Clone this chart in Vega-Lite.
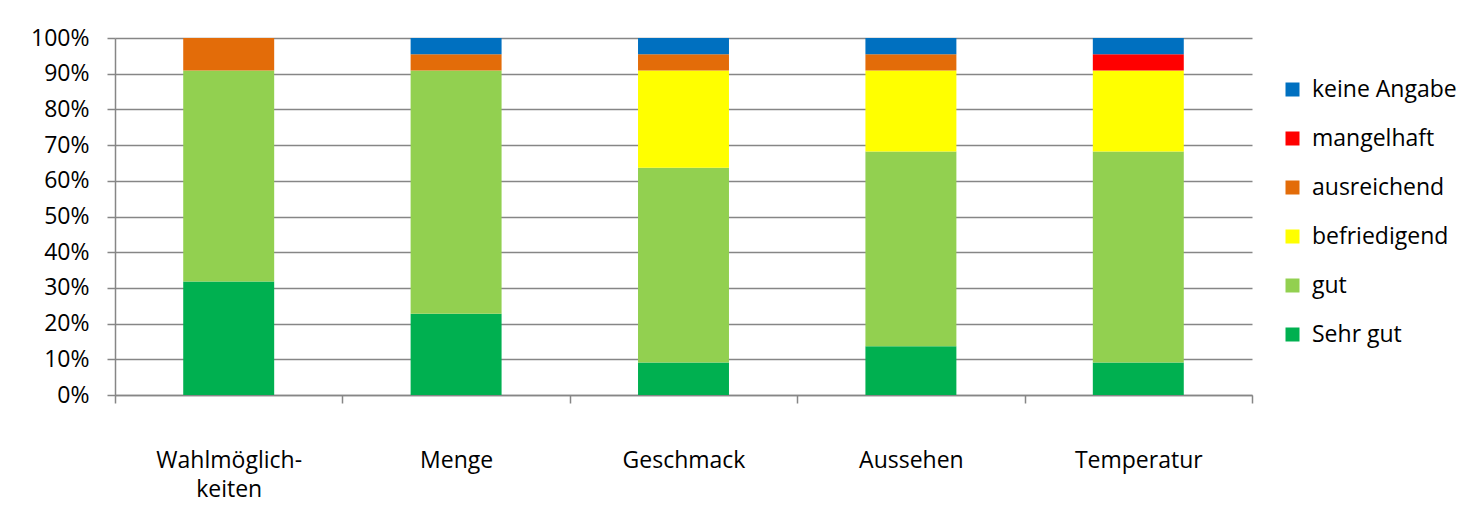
{
  "$schema": "https://vega.github.io/schema/vega-lite/v6.json",
  "autosize": {"type": "none"},
  "padding": {"left": 115, "top": 38, "right": 227, "bottom": 126},
  "width": 1137,
  "height": 357,
  "background": "white",
  "config": {
    "font": "Open Sans",
    "view": {"stroke": null},
    "axis": {"labelFont": "Open Sans", "labelFontSize": 23, "labelColor": "#000000", "domainColor": "#868686", "tickColor": "#868686", "gridColor": "#868686", "domainWidth": 1.5, "tickWidth": 1.5, "gridWidth": 1.5, "tickSize": 8, "title": null},
    "legend": {"labelFont": "Open Sans", "labelFontSize": 23, "labelColor": "#000000"}
  },
  "data": {
    "values": [
      {"kat": "Wahlmöglichkeiten", "bewertung": "Sehr gut", "n": 7},
      {"kat": "Wahlmöglichkeiten", "bewertung": "gut", "n": 13},
      {"kat": "Wahlmöglichkeiten", "bewertung": "ausreichend", "n": 2},
      {"kat": "Menge", "bewertung": "Sehr gut", "n": 5},
      {"kat": "Menge", "bewertung": "gut", "n": 15},
      {"kat": "Menge", "bewertung": "ausreichend", "n": 1},
      {"kat": "Menge", "bewertung": "keine Angabe", "n": 1},
      {"kat": "Geschmack", "bewertung": "Sehr gut", "n": 2},
      {"kat": "Geschmack", "bewertung": "gut", "n": 12},
      {"kat": "Geschmack", "bewertung": "befriedigend", "n": 6},
      {"kat": "Geschmack", "bewertung": "ausreichend", "n": 1},
      {"kat": "Geschmack", "bewertung": "keine Angabe", "n": 1},
      {"kat": "Aussehen", "bewertung": "Sehr gut", "n": 3},
      {"kat": "Aussehen", "bewertung": "gut", "n": 12},
      {"kat": "Aussehen", "bewertung": "befriedigend", "n": 5},
      {"kat": "Aussehen", "bewertung": "ausreichend", "n": 1},
      {"kat": "Aussehen", "bewertung": "keine Angabe", "n": 1},
      {"kat": "Temperatur", "bewertung": "Sehr gut", "n": 2},
      {"kat": "Temperatur", "bewertung": "gut", "n": 13},
      {"kat": "Temperatur", "bewertung": "befriedigend", "n": 5},
      {"kat": "Temperatur", "bewertung": "mangelhaft", "n": 1},
      {"kat": "Temperatur", "bewertung": "keine Angabe", "n": 1}
    ]
  },
  "transform": [
    {"calculate": "indexof(['Sehr gut','gut','befriedigend','ausreichend','mangelhaft','keine Angabe'], datum.bewertung)", "as": "rang"}
  ],
  "mark": {"type": "bar", "width": {"band": 0.4}},
  "encoding": {
    "x": {
      "field": "kat",
      "type": "nominal",
      "sort": ["Wahlmöglichkeiten", "Menge", "Geschmack", "Aussehen", "Temperatur"],
      "scale": {"paddingInner": 0, "paddingOuter": 0},
      "axis": {
        "labelAngle": 0,
        "tickBand": "extent",
        "labelPadding": 46,
        "labelLineHeight": 29,
        "labelExpr": "datum.value == 'Wahlmöglichkeiten' ? ['Wahlmöglich-', 'keiten'] : datum.value"
      }
    },
    "y": {
      "field": "n",
      "type": "quantitative",
      "stack": "normalize",
      "scale": {"domain": [0, 1]},
      "axis": {
        "values": [0, 0.1, 0.2, 0.3, 0.4, 0.5, 0.6, 0.7, 0.8, 0.9, 1],
        "format": ".0%",
        "labelPadding": 18,
        "grid": true
      }
    },
    "color": {
      "field": "bewertung",
      "type": "nominal",
      "scale": {
        "domain": ["keine Angabe", "mangelhaft", "ausreichend", "befriedigend", "gut", "Sehr gut"],
        "range": ["#0070C0", "#FF0000", "#E36C09", "#FFFF00", "#92D050", "#00B050"]
      },
      "legend": {
        "title": null,
        "orient": "none",
        "legendX": 1166,
        "legendY": 40,
        "symbolType": "square",
        "symbolSize": 196,
        "symbolStrokeWidth": 0,
        "symbolOpacity": 1,
        "rowPadding": 25,
        "labelOffset": 8
      }
    },
    "order": {"field": "rang", "type": "quantitative", "sort": "ascending"}
  }
}
